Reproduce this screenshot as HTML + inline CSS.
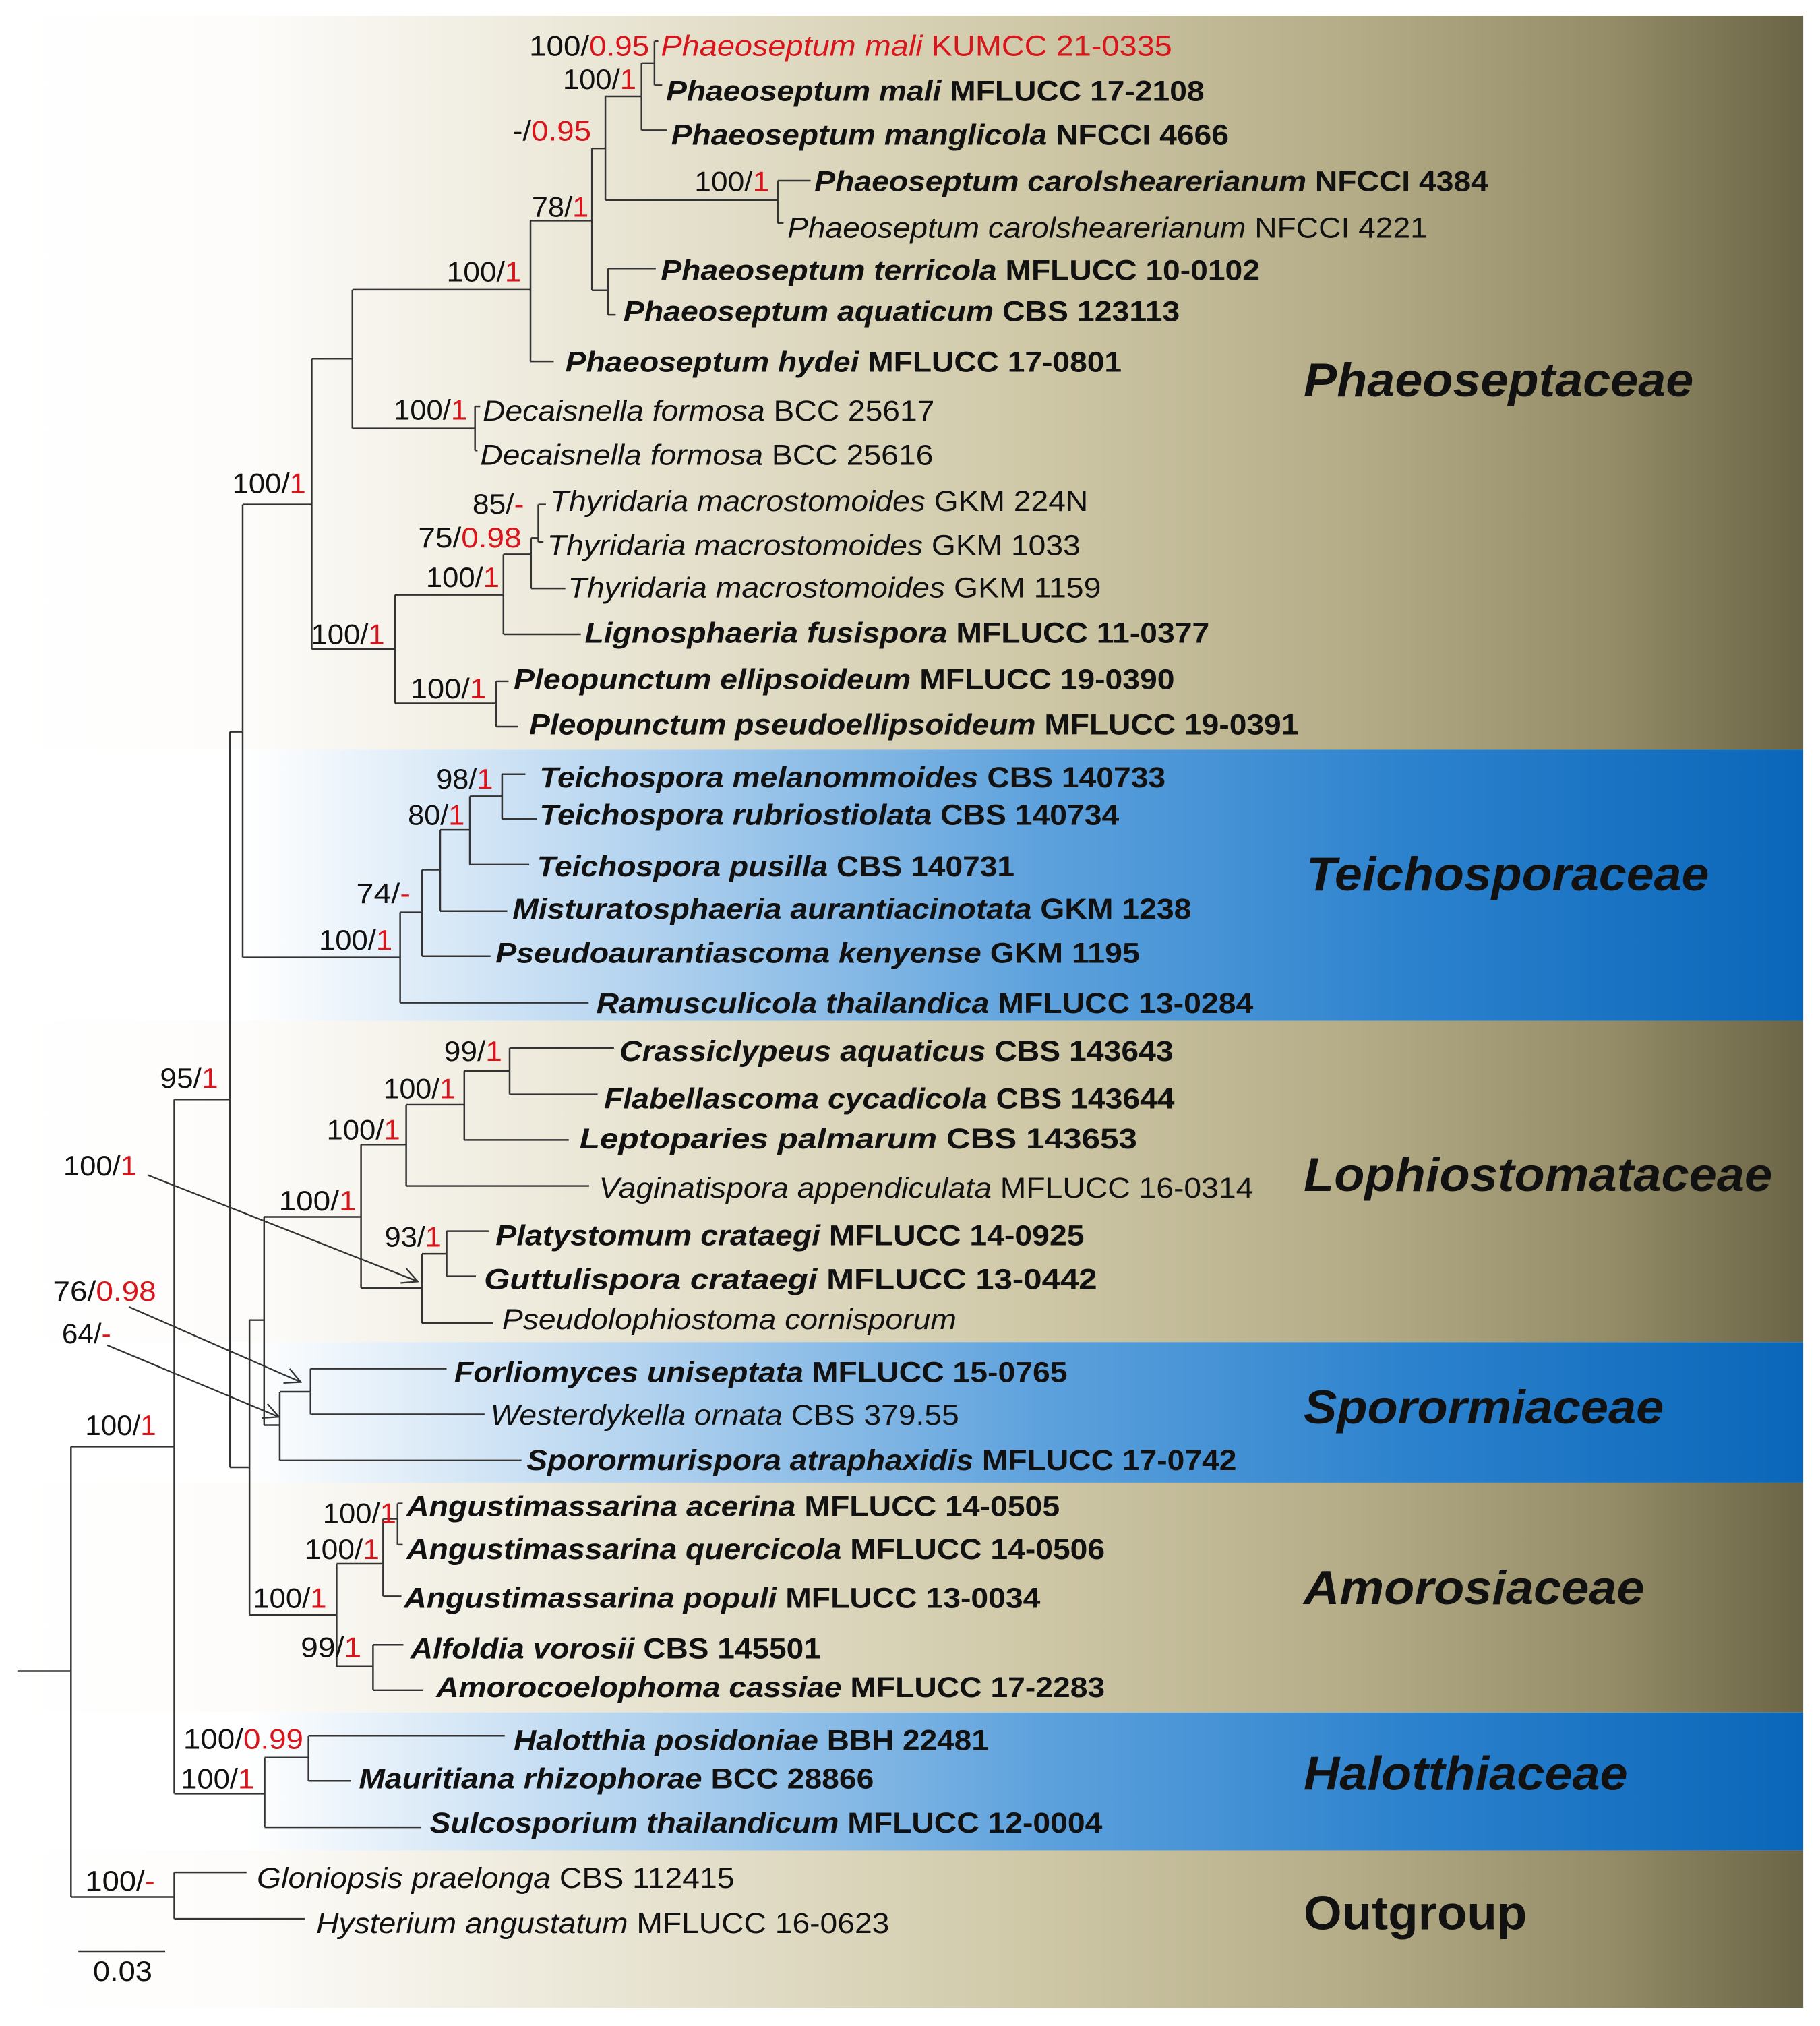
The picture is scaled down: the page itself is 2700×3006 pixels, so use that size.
<!DOCTYPE html>
<html><head><meta charset="utf-8"><style>
html,body{margin:0;padding:0;background:#fff}
svg{display:block}
text{font-family:"Liberation Sans",Arial,sans-serif;fill:#111}
.t{font-size:22.5px}
.b{font-weight:bold}
.i{font-style:italic}
.s{font-size:22px}
.r{fill:#d9141b}
.f{font-size:37px;font-weight:bold;font-style:italic}
</style></head><body>
<svg width="2700" height="3006" viewBox="0 0 1410 1570" preserveAspectRatio="none" xmlns="http://www.w3.org/2000/svg">
<defs>
<linearGradient id="tan" gradientUnits="userSpaceOnUse" x1="12" y1="0" x2="1397" y2="0">
<stop offset="0" stop-color="#ffffff"/>
<stop offset="0.13" stop-color="#fdfcfa"/>
<stop offset="0.32" stop-color="#ebe7d7"/>
<stop offset="0.57" stop-color="#cfc8a7"/>
<stop offset="0.75" stop-color="#b4ac87"/>
<stop offset="0.89" stop-color="#958d68"/>
<stop offset="1" stop-color="#6a6446"/>
</linearGradient>
<linearGradient id="blue" gradientUnits="userSpaceOnUse" x1="12" y1="0" x2="1397" y2="0">
<stop offset="0" stop-color="#ffffff"/>
<stop offset="0.13" stop-color="#ffffff"/>
<stop offset="0.35" stop-color="#b3d3ef"/>
<stop offset="0.57" stop-color="#5ea2dd"/>
<stop offset="0.78" stop-color="#2c82cd"/>
<stop offset="1" stop-color="#0a66b9"/>
</linearGradient>
<marker id="ah" markerWidth="14" markerHeight="14" refX="13" refY="7" orient="auto" markerUnits="userSpaceOnUse">
<path d="M1 1 L13 7 L1 13" fill="none" stroke="#333" stroke-width="1.2"/>
</marker>
</defs>
<rect x="12" y="12" width="1385" height="569" fill="url(#tan)"/>
<rect x="12" y="581" width="1385" height="210" fill="url(#blue)"/>
<rect x="12" y="791" width="1385" height="249" fill="url(#tan)"/>
<rect x="12" y="1040" width="1385" height="109" fill="url(#blue)"/>
<rect x="12" y="1149" width="1385" height="178" fill="url(#tan)"/>
<rect x="12" y="1327" width="1385" height="107" fill="url(#blue)"/>
<rect x="12" y="1434" width="1385" height="122" fill="url(#tan)"/>

<path fill="none" stroke="#333" stroke-width="1.3" d="
M13.5 1295 H55 M55 1121 V1470
M55 1470 H135 M135 1451 V1487 M135 1451 H191 M135 1487 H236
M55 1121 H135 M135 852 V1390
M135 1390 H205 M205 1362 V1416 M205 1362 H239 M239 1345 V1380 M239 1345 H391 M239 1380 H272 M205 1416 H326
M135 852 H178 M178 567 V1137 M178 567 H188 M188 391 V742 M188 391 H241.5 M241.5 278 V503
M241.5 278 H273 M273 224.5 V332 M273 224.5 H411 M411 171 V280 M411 280 H429 M411 171 H458.6 M458.6 115 V225 M458.6 225 H471 M471 208 V244 M471 208 H508 M471 244 H477
M458.6 115 H469 M469 74.7 V155 M469 155 H602.5 M602.5 140 V173 M602.5 140 H628 M602.5 173 H607
M469 74.7 H497 M497 49 V101 M497 101 H517 M497 49 H507 M507 32 V66 M507 32 H510 M507 66 H513
M273 332 H368 M368 315 V349 M368 315 H372 M368 349 H370
M241.5 503 H306 M306 461 V545 M306 461 H390 M390 429.5 V491.5 M390 429.5 H411.4 M411.4 417 V456 M411.4 417 H417 M417 391 V420 M417 391 H423 M417 420 H421 M411.4 456 H438 M390 491.5 H450
M306 545 H384.5 M384.5 528 V563 M384.5 528 H394 M384.5 563 H401.5
M188 742 H310 M310 707 V777 M310 707 H327 M310 777 H456 M327 674 V741 M327 674 H341 M327 741 H380 M341 643 V706 M341 643 H364 M341 706 H393 M364 617 V670 M364 617 H389 M364 670 H410 M389 600 V634.5 M389 600 H407 M389 634.5 H416
M178 1137 H193.3 M193.3 1023 V1251.4 M193.3 1023 H204.6 M204.6 943 V1104.4 M204.6 943 H279.7 M279.7 887 V998 M279.7 887 H314.7 M314.7 856 V919 M314.7 856 H359.7 M359.7 830 V883.4 M359.7 830 H394.8 M394.8 812 V848 M394.8 812 H475.7 M394.8 848 H463 M359.7 883.4 H440.6 M314.7 919 H456.4 M279.7 998 H326.9 M326.9 971.5 V1025.4 M326.9 971.5 H346 M346 954 V989 M346 954 H378.6 M346 989 H368.7 M326.9 1025.4 H382
M204.6 1104.4 H216.7 M216.7 1078.5 V1131.7 M216.7 1078.5 H240.6 M240.6 1060.6 V1096 M240.6 1060.6 H346 M240.6 1096 H375.4 M216.7 1131.7 H404
M193.3 1251.4 H260.8 M260.8 1211.7 V1291.5 M260.8 1211.7 H296.8 M296.8 1177 V1237 M296.8 1177 H308 M308 1165 V1197 M308 1165 H312 M308 1197 H312 M296.8 1237 H311 M260.8 1291.5 H289 M289 1274.5 V1309.8 M289 1274.5 H312.5 M289 1309.8 H328
M60.7 1512 H128"/>
<g stroke="#333" stroke-width="1.2" fill="none">
<line x1="114.7" y1="910.7" x2="323.7" y2="993" marker-end="url(#ah)"/>
<line x1="99.8" y1="1012.7" x2="233" y2="1071" marker-end="url(#ah)"/>
<line x1="83" y1="1042.4" x2="216" y2="1098" marker-end="url(#ah)"/>
</g>

<g class="t">
<text class="r i" x="512" y="43" textLength="396" lengthAdjust="spacingAndGlyphs" style="fill:#d9141b">Phaeoseptum mali <tspan font-style="normal" style="fill:#d9141b"> KUMCC 21-0335</tspan></text>
<text class="b" x="516" y="78" textLength="417" lengthAdjust="spacingAndGlyphs"><tspan font-style="italic">Phaeoseptum mali</tspan> MFLUCC 17-2108</text>
<text class="b" x="520" y="112" textLength="432" lengthAdjust="spacingAndGlyphs"><tspan font-style="italic">Phaeoseptum manglicola</tspan> NFCCI 4666</text>
<text class="b" x="631" y="148" textLength="522" lengthAdjust="spacingAndGlyphs"><tspan font-style="italic">Phaeoseptum carolshearerianum</tspan> NFCCI 4384</text>
<text x="610" y="184" textLength="496" lengthAdjust="spacingAndGlyphs"><tspan font-style="italic">Phaeoseptum carolshearerianum</tspan> NFCCI 4221</text>
<text class="b" x="512" y="217" textLength="464" lengthAdjust="spacingAndGlyphs"><tspan font-style="italic">Phaeoseptum terricola</tspan> MFLUCC 10-0102</text>
<text class="b" x="483" y="249" textLength="431" lengthAdjust="spacingAndGlyphs"><tspan font-style="italic">Phaeoseptum aquaticum</tspan> CBS 123113</text>
<text class="b" x="438" y="288" textLength="431" lengthAdjust="spacingAndGlyphs"><tspan font-style="italic">Phaeoseptum hydei</tspan> MFLUCC 17-0801</text>
<text x="374" y="326" textLength="350" lengthAdjust="spacingAndGlyphs"><tspan font-style="italic">Decaisnella formosa</tspan> BCC 25617</text>
<text x="372" y="360" textLength="351" lengthAdjust="spacingAndGlyphs"><tspan font-style="italic">Decaisnella formosa</tspan> BCC 25616</text>
<text x="426" y="396" textLength="417" lengthAdjust="spacingAndGlyphs"><tspan font-style="italic">Thyridaria macrostomoides</tspan> GKM 224N</text>
<text x="424" y="430" textLength="413" lengthAdjust="spacingAndGlyphs"><tspan font-style="italic">Thyridaria macrostomoides</tspan> GKM 1033</text>
<text x="440" y="463" textLength="413" lengthAdjust="spacingAndGlyphs"><tspan font-style="italic">Thyridaria macrostomoides</tspan> GKM 1159</text>
<text class="b" x="453" y="498" textLength="484" lengthAdjust="spacingAndGlyphs"><tspan font-style="italic">Lignosphaeria fusispora</tspan> MFLUCC 11-0377</text>
<text class="b" x="398" y="534" textLength="512" lengthAdjust="spacingAndGlyphs"><tspan font-style="italic">Pleopunctum ellipsoideum</tspan> MFLUCC 19-0390</text>
<text class="b" x="410" y="569" textLength="596" lengthAdjust="spacingAndGlyphs"><tspan font-style="italic">Pleopunctum pseudoellipsoideum</tspan> MFLUCC 19-0391</text>
<text class="b" x="418" y="610" textLength="485" lengthAdjust="spacingAndGlyphs"><tspan font-style="italic">Teichospora melanommoides</tspan> CBS 140733</text>
<text class="b" x="418" y="639" textLength="449" lengthAdjust="spacingAndGlyphs"><tspan font-style="italic">Teichospora rubriostiolata</tspan> CBS 140734</text>
<text class="b" x="416" y="679" textLength="370" lengthAdjust="spacingAndGlyphs"><tspan font-style="italic">Teichospora pusilla</tspan> CBS 140731</text>
<text class="b" x="397" y="712" textLength="526" lengthAdjust="spacingAndGlyphs"><tspan font-style="italic">Misturatosphaeria aurantiacinotata</tspan> GKM 1238</text>
<text class="b" x="384" y="746" textLength="499" lengthAdjust="spacingAndGlyphs"><tspan font-style="italic">Pseudoaurantiascoma kenyense</tspan> GKM 1195</text>
<text class="b" x="462" y="785" textLength="509" lengthAdjust="spacingAndGlyphs"><tspan font-style="italic">Ramusculicola thailandica</tspan> MFLUCC 13-0284</text>
<text class="b" x="480" y="822" textLength="429" lengthAdjust="spacingAndGlyphs"><tspan font-style="italic">Crassiclypeus aquaticus</tspan> CBS 143643</text>
<text class="b" x="468" y="859" textLength="442" lengthAdjust="spacingAndGlyphs"><tspan font-style="italic">Flabellascoma cycadicola</tspan> CBS 143644</text>
<text class="b" x="449" y="890" textLength="432" lengthAdjust="spacingAndGlyphs"><tspan font-style="italic">Leptoparies palmarum</tspan> CBS 143653</text>
<text x="464" y="928" textLength="507" lengthAdjust="spacingAndGlyphs"><tspan font-style="italic">Vaginatispora appendiculata</tspan> MFLUCC 16-0314</text>
<text class="b" x="384" y="965" textLength="456" lengthAdjust="spacingAndGlyphs"><tspan font-style="italic">Platystomum crataegi</tspan> MFLUCC 14-0925</text>
<text class="b" x="375" y="999" textLength="475" lengthAdjust="spacingAndGlyphs"><tspan font-style="italic">Guttulispora crataegi</tspan> MFLUCC 13-0442</text>
<text class="i" x="389" y="1030" textLength="352" lengthAdjust="spacingAndGlyphs">Pseudolophiostoma cornisporum</text>
<text class="b" x="352" y="1071" textLength="475" lengthAdjust="spacingAndGlyphs"><tspan font-style="italic">Forliomyces uniseptata</tspan> MFLUCC 15-0765</text>
<text x="380" y="1104" textLength="363" lengthAdjust="spacingAndGlyphs"><tspan font-style="italic">Westerdykella ornata</tspan> CBS 379.55</text>
<text class="b" x="408" y="1139" textLength="550" lengthAdjust="spacingAndGlyphs"><tspan font-style="italic">Sporormurispora atraphaxidis</tspan> MFLUCC 17-0742</text>
<text class="b" x="315" y="1175" textLength="506" lengthAdjust="spacingAndGlyphs"><tspan font-style="italic">Angustimassarina acerina</tspan> MFLUCC 14-0505</text>
<text class="b" x="315" y="1208" textLength="541" lengthAdjust="spacingAndGlyphs"><tspan font-style="italic">Angustimassarina quercicola</tspan> MFLUCC 14-0506</text>
<text class="b" x="313" y="1246" textLength="493" lengthAdjust="spacingAndGlyphs"><tspan font-style="italic">Angustimassarina populi</tspan> MFLUCC 13-0034</text>
<text class="b" x="318" y="1285" textLength="318" lengthAdjust="spacingAndGlyphs"><tspan font-style="italic">Alfoldia vorosii</tspan> CBS 145501</text>
<text class="b" x="338" y="1315" textLength="518" lengthAdjust="spacingAndGlyphs"><tspan font-style="italic">Amorocoelophoma cassiae</tspan> MFLUCC 17-2283</text>
<text class="b" x="398" y="1356" textLength="368" lengthAdjust="spacingAndGlyphs"><tspan font-style="italic">Halotthia posidoniae</tspan> BBH 22481</text>
<text class="b" x="278" y="1386" textLength="399" lengthAdjust="spacingAndGlyphs"><tspan font-style="italic">Mauritiana rhizophorae</tspan> BCC 28866</text>
<text class="b" x="333" y="1420" textLength="521" lengthAdjust="spacingAndGlyphs"><tspan font-style="italic">Sulcosporium thailandicum</tspan> MFLUCC 12-0004</text>
<text x="199" y="1463" textLength="370" lengthAdjust="spacingAndGlyphs"><tspan font-style="italic">Gloniopsis praelonga</tspan> CBS 112415</text>
<text x="245" y="1498" textLength="444" lengthAdjust="spacingAndGlyphs"><tspan font-style="italic">Hysterium angustatum</tspan> MFLUCC 16-0623</text>
</g>

<g class="s">
<text x="410" y="43" textLength="93" lengthAdjust="spacingAndGlyphs">100/<tspan class="r">0.95</tspan></text>
<text x="436" y="69" textLength="57" lengthAdjust="spacingAndGlyphs">100/<tspan class="r">1</tspan></text>
<text x="397" y="109" textLength="61" lengthAdjust="spacingAndGlyphs">-/<tspan class="r">0.95</tspan></text>
<text x="538" y="148" textLength="58" lengthAdjust="spacingAndGlyphs">100/<tspan class="r">1</tspan></text>
<text x="412" y="168" textLength="44" lengthAdjust="spacingAndGlyphs">78/<tspan class="r">1</tspan></text>
<text x="346" y="218" textLength="58" lengthAdjust="spacingAndGlyphs">100/<tspan class="r">1</tspan></text>
<text x="305" y="325" textLength="57" lengthAdjust="spacingAndGlyphs">100/<tspan class="r">1</tspan></text>
<text x="180" y="382" textLength="57" lengthAdjust="spacingAndGlyphs">100/<tspan class="r">1</tspan></text>
<text x="366" y="398" textLength="40" lengthAdjust="spacingAndGlyphs">85/<tspan class="r">-</tspan></text>
<text x="324" y="424" textLength="80" lengthAdjust="spacingAndGlyphs">75/<tspan class="r">0.98</tspan></text>
<text x="330" y="455" textLength="57" lengthAdjust="spacingAndGlyphs">100/<tspan class="r">1</tspan></text>
<text x="241" y="499" textLength="57" lengthAdjust="spacingAndGlyphs">100/<tspan class="r">1</tspan></text>
<text x="318" y="541" textLength="59" lengthAdjust="spacingAndGlyphs">100/<tspan class="r">1</tspan></text>
<text x="338" y="611" textLength="44" lengthAdjust="spacingAndGlyphs">98/<tspan class="r">1</tspan></text>
<text x="316" y="639" textLength="44" lengthAdjust="spacingAndGlyphs">80/<tspan class="r">1</tspan></text>
<text x="276" y="700" textLength="42" lengthAdjust="spacingAndGlyphs">74/<tspan class="r">-</tspan></text>
<text x="247" y="736" textLength="57" lengthAdjust="spacingAndGlyphs">100/<tspan class="r">1</tspan></text>
<text x="344" y="822" textLength="45" lengthAdjust="spacingAndGlyphs">99/<tspan class="r">1</tspan></text>
<text x="297" y="851" textLength="56" lengthAdjust="spacingAndGlyphs">100/<tspan class="r">1</tspan></text>
<text x="253" y="883" textLength="57" lengthAdjust="spacingAndGlyphs">100/<tspan class="r">1</tspan></text>
<text x="216" y="938" textLength="60" lengthAdjust="spacingAndGlyphs">100/<tspan class="r">1</tspan></text>
<text x="298" y="966" textLength="44" lengthAdjust="spacingAndGlyphs">93/<tspan class="r">1</tspan></text>
<text x="49" y="911" textLength="57" lengthAdjust="spacingAndGlyphs">100/<tspan class="r">1</tspan></text>
<text x="41" y="1008" textLength="80" lengthAdjust="spacingAndGlyphs">76/<tspan class="r">0.98</tspan></text>
<text x="48" y="1041" textLength="38" lengthAdjust="spacingAndGlyphs">64/<tspan class="r">-</tspan></text>
<text x="124" y="843" textLength="45" lengthAdjust="spacingAndGlyphs">95/<tspan class="r">1</tspan></text>
<text x="66" y="1112" textLength="55" lengthAdjust="spacingAndGlyphs">100/<tspan class="r">1</tspan></text>
<text x="250" y="1180" textLength="57" lengthAdjust="spacingAndGlyphs">100/<tspan class="r">1</tspan></text>
<text x="236" y="1208" textLength="58" lengthAdjust="spacingAndGlyphs">100/<tspan class="r">1</tspan></text>
<text x="196" y="1246" textLength="57" lengthAdjust="spacingAndGlyphs">100/<tspan class="r">1</tspan></text>
<text x="233" y="1284" textLength="47" lengthAdjust="spacingAndGlyphs">99/<tspan class="r">1</tspan></text>
<text x="142" y="1355" textLength="93" lengthAdjust="spacingAndGlyphs">100/<tspan class="r">0.99</tspan></text>
<text x="140" y="1386" textLength="57" lengthAdjust="spacingAndGlyphs">100/<tspan class="r">1</tspan></text>
<text x="66" y="1465" textLength="54" lengthAdjust="spacingAndGlyphs">100/<tspan class="r">-</tspan></text>
<text x="72" y="1535" textLength="46" lengthAdjust="spacingAndGlyphs">0.03</text>
</g>

<g class="f">
<text x="1010" y="307" textLength="302" lengthAdjust="spacingAndGlyphs">Phaeoseptaceae</text>
<text x="1012" y="690" textLength="312" lengthAdjust="spacingAndGlyphs">Teichosporaceae</text>
<text x="1010" y="923" textLength="363" lengthAdjust="spacingAndGlyphs">Lophiostomataceae</text>
<text x="1010" y="1103" textLength="279" lengthAdjust="spacingAndGlyphs">Sporormiaceae</text>
<text x="1010" y="1243" textLength="264" lengthAdjust="spacingAndGlyphs">Amorosiaceae</text>
<text x="1010" y="1387" textLength="251" lengthAdjust="spacingAndGlyphs">Halotthiaceae</text>
<text x="1010" y="1495" textLength="173" lengthAdjust="spacingAndGlyphs" font-style="normal">Outgroup</text>
</g>
</svg>
</body></html>
